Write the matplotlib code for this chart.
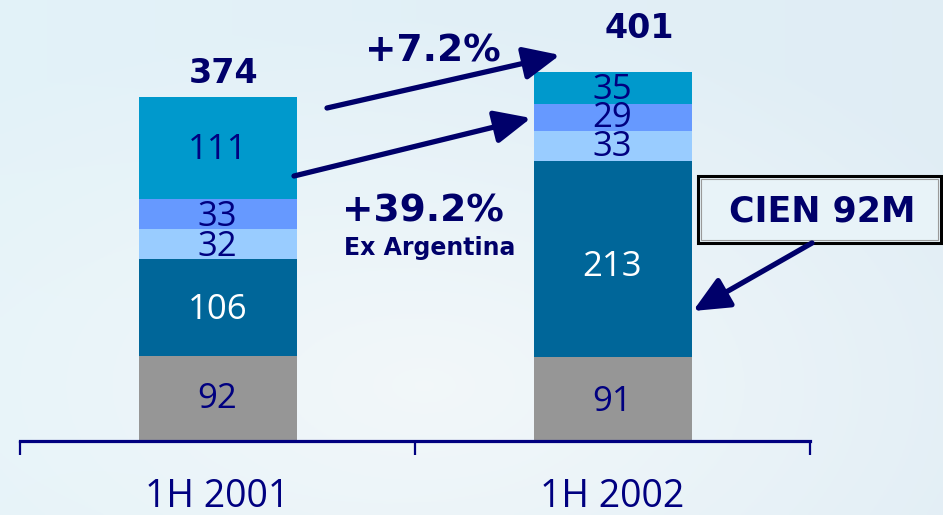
import numpy as np
import matplotlib
matplotlib.use("Agg")
import matplotlib.pyplot as plt
from matplotlib.patches import FancyArrowPatch, Rectangle, ArrowStyle

# ---------------- data ----------------
categories = ["1H 2001", "1H 2002"]
seg_gray = [92, 91]
seg_dark = [106, 213]
seg_light = [32, 33]
seg_mid = [33, 29]
seg_top = [111, 35]
totals = [374, 401]
growth_total = "+7.2%"
growth_ex = "+39.2%"
growth_ex_note = "Ex Argentina"
callout = "CIEN 92M"

# ---------------- styling ----------------
W, H = 943, 515
DPI = 100
NAVY = "#000080"
DNAVY = "#00006a"
colors = ["#969696", "#006699", "#99CCFF", "#6699FF", "#0099CC"]
num_font = ["Open Sans", "DejaVu Sans"]
bold_font = ["DejaVu Sans"]

fig = plt.figure(figsize=(W / DPI, H / DPI), dpi=DPI)

# background gradient
bg = fig.add_axes([0, 0, 1, 1], zorder=-10)
yy, xx = np.mgrid[0:1:200j, 0:1:300j]
c1 = np.array([0.89, 0.95, 0.975])
c2 = np.array([0.95, 0.97, 0.98])
c3 = np.array([0.88, 0.93, 0.96])
t = np.clip(1 - np.hypot(xx - 0.45, yy - 0.75) * 1.4, 0, 1)[..., None]
s = xx[..., None]
img = (c1 * (1 - s) + c3 * s) * (1 - t) + c2 * t
bg.imshow(img, aspect="auto", extent=[0, 1, 0, 1])
bg.axis("off")

# main axes (pixel layout)
px_per_unit = 0.92
axis_y = 441
left, right = 20, 810
ax = fig.add_axes([left / W, (H - axis_y) / H, (right - left) / W, axis_y / H])
ax.set_facecolor("none")
ax.set_xlim(-0.5, 1.5)
ax.set_ylim(0, axis_y / px_per_unit)

x = np.arange(len(categories))
bw = 0.4
stack = [seg_gray, seg_dark, seg_light, seg_mid, seg_top]
bottom = np.zeros(len(categories))
centers = []
for vals, col in zip(stack, colors):
    vals = np.array(vals, dtype=float)
    ax.bar(x, vals, bw, bottom=bottom, color=col, edgecolor="none", zorder=2)
    centers.append(bottom + vals / 2)
    bottom = bottom + vals

# segment labels (pixel offsets: positive = down)
offsets_px = [[0, 3], [2, 8], [3, 1], [3, 0], [2, 2]]
txt_colors = [NAVY, "white", NAVY, NAVY, NAVY]
for k, vals in enumerate(stack):
    for i, v in enumerate(vals):
        yc = centers[k][i] - offsets_px[k][i] / px_per_unit
        ax.text(x[i], yc, str(v), ha="center", va="center", fontsize=25,
                color=txt_colors[k], family=num_font, zorder=5)

# totals
tot_off = [(6, 23), (27, 44)]  # (dx px, dy px above top)
for i, tv in enumerate(totals):
    ax.annotate(str(tv), xy=(x[i], bottom[i]), xytext=(tot_off[i][0], tot_off[i][1]),
                textcoords="offset pixels", ha="center", va="center",
                fontsize=24, fontweight="bold", family=bold_font, color=DNAVY)

# axis styling
for sp in ["top", "left", "right"]:
    ax.spines[sp].set_visible(False)
ax.spines["bottom"].set_color(NAVY)
ax.spines["bottom"].set_linewidth(2.3)
ax.set_yticks([])
ax.set_xticks([-0.5, 0.5, 1.5])
ax.set_xticklabels([])
ax.tick_params(axis="x", direction="out", length=10, width=1.6, color=NAVY)
lab_y = -(497 - axis_y) / axis_y
for i, c in enumerate(categories):
    ax.text(x[i], lab_y, c, transform=ax.get_xaxis_transform(), ha="center",
            va="center", fontsize=27, color=NAVY, family=num_font)


def fp(px, py):
    return (px / W, 1 - py / H)


# growth texts
fig.text(*fp(433, 51), growth_total, ha="center", va="center", fontsize=27,
         fontweight="bold", family=bold_font, color=DNAVY)
fig.text(*fp(423, 211), growth_ex, ha="center", va="center", fontsize=27,
         fontweight="bold", family=bold_font, color=DNAVY)
fig.text(*fp(430, 248), growth_ex_note, ha="center", va="center", fontsize=17,
         fontweight="bold", family=bold_font, color=DNAVY)

# arrows
style = ArrowStyle("-|>", head_length=22, head_width=10)
for (x0, y0), (x1, y1) in [((327, 108), (560, 55)),
                           ((294, 176), (531, 118)),
                           ((812, 243), (693, 311))]:
    a = FancyArrowPatch(fp(x0, y0), fp(x1, y1), transform=fig.transFigure,
                        arrowstyle=style, mutation_scale=1, color=DNAVY,
                        linewidth=3.8, shrinkA=0, shrinkB=0, zorder=6)
    fig.patches.append(a)

# callout box
bx0, by0, bx1, by1 = 698, 176, 941, 243
fig.patches.append(Rectangle(fp(bx0, by1), (bx1 - bx0) / W, (by1 - by0) / H,
                             transform=fig.transFigure, facecolor="#e8f3f8",
                             edgecolor="black", linewidth=2.2, zorder=4))
fig.patches.append(Rectangle(fp(bx0 + 3, by1 - 3), (bx1 - bx0 - 6) / W, (by1 - by0 - 6) / H,
                             transform=fig.transFigure, facecolor="none",
                             edgecolor="#9a9a9a", linewidth=0.8, zorder=4))
fig.text(*fp(822, 211), callout, ha="center", va="center", fontsize=25,
         fontweight="bold", family=bold_font, color=DNAVY, zorder=7)

fig.savefig("out.png", dpi=DPI)
